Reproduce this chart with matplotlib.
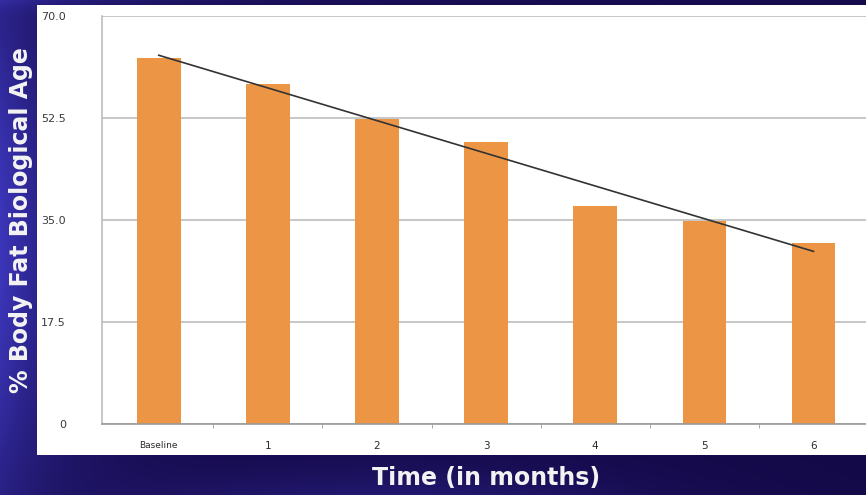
import matplotlib.pyplot as plt
import numpy as np
from matplotlib.patches import Rectangle

# data
categories = ['Baseline', '1', '2', '3', '4', '5', '6']
body_fat_age = [62.8, 58.3, 52.3, 48.4, 37.4, 34.8, 31.1]
y_ticks = [0, 17.5, 35.0, 52.5, 70.0]
y_tick_labels = ['0', '17.5', '35.0', '52.5', '70.0']

fig = plt.figure(figsize=(8.66, 4.95), dpi=100)

# dark blue slide background, brighter along the left edge
bg = fig.add_axes([0, 0, 1, 1], zorder=-10)
gx = np.linspace(0, 1, 433)
gy = np.linspace(0, 1, 248)
X, Y = np.meshgrid(gx, gy)
dark = np.array([20, 9, 72]) / 255
bright = np.array([60, 54, 186]) / 255
w = np.exp(-X / 0.09) * (0.5 + 0.5 * np.sin(np.pi * Y)) \
    + 0.35 * np.exp(-((X - 0.45) / 0.3) ** 2) * np.exp(-Y / 0.06) \
    + 0.3 * np.exp(-(1 - Y) / 0.02) * np.exp(-X / 0.5)
w = np.clip(w, 0, 1)[..., None]
bg.imshow(dark + (bright - dark) * w, aspect='auto', extent=[0, 1, 0, 1], origin='lower')
bg.set_xlim(0, 1)
bg.set_ylim(0, 1)
bg.axis('off')

# white chart panel
fig.patches.append(Rectangle((37 / 866, 1 - 455 / 495), 829 / 866, 450 / 495,
                             transform=fig.transFigure, facecolor='white',
                             edgecolor='none', zorder=-5))

ax = fig.add_axes([102 / 866, 1 - 424 / 495, 766 / 866, 408 / 495])
ax.set_facecolor('none')

x = np.arange(len(categories))
ax.bar(x, body_fat_age, width=0.4, color='#ec9645', zorder=2)

# linear trend line
k, b = np.polyfit(x, body_fat_age, 1)
ax.plot(x, k * x + b, color='#333333', linewidth=1.2, zorder=3)

ax.set_xlim(-0.52, 6.5)
ax.set_ylim(0, 70)
ax.set_yticks(y_ticks)
ax.set_yticklabels(y_tick_labels)
ax.set_xticks(x)
ax.set_xticklabels(categories)
ax.set_xticks(x[:-1] + 0.5, minor=True)

ax.grid(axis='y', color='#bdbdbd', linewidth=1.2, zorder=0)
for s in ['top', 'right']:
    ax.spines[s].set_visible(False)
ax.spines['left'].set_color('#bdbdbd')
ax.spines['bottom'].set_color('#9a9a9a')
ax.spines['left'].set_linewidth(1.2)
ax.spines['bottom'].set_linewidth(1.2)

ax.tick_params(axis='y', length=0, pad=26, labelsize=8, labelcolor='#3a3a3a')
ax.tick_params(axis='x', which='major', length=0, pad=12, labelsize=7.5, labelcolor='#2a2a2a')
ax.tick_params(axis='x', which='minor', length=3, color='#9a9a9a', direction='out')
for lbl in ax.get_xticklabels():
    if lbl.get_text() == 'Baseline':
        lbl.set_fontsize(6.5)

fig.text(21 / 866, 1 - 220 / 495, '% Body Fat Biological Age', rotation=90,
         color='#f4f4f4', fontsize=17, fontweight='bold', family='DejaVu Sans',
         ha='center', va='center')
fig.text(486 / 866, 1 - 478 / 495, 'Time (in months)', color='#f2f2f2',
         fontsize=17, fontweight='bold', family='DejaVu Sans', ha='center', va='center')

fig.savefig('out.png', dpi=100)
